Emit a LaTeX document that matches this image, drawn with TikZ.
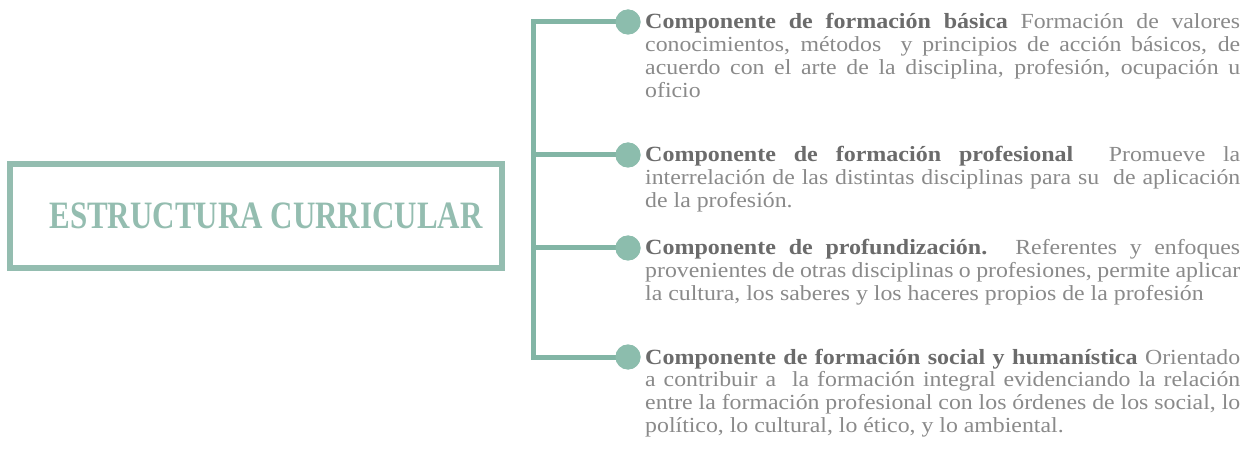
\documentclass[tikz,border=0pt]{standalone}
\usepackage{fontspec}
\setmainfont{Liberation Serif}
\definecolor{linec}{HTML}{82B5A5}
\definecolor{dotc}{HTML}{8CBDAD}
\definecolor{boxc}{HTML}{94BDB0}
\definecolor{headc}{HTML}{6B6B6B}
\definecolor{bodyc}{HTML}{8A8A8A}
\newcommand{\hd}[1]{{\fontsize{21.7}{20.5}\selectfont\bfseries\color{headc}#1}}
\newcommand{\loosepar}{\tolerance=10000 \hbadness=10000 \relax}
\tikzset{
  branch/.style={draw=linec, line width=5pt},
  dot/.style={circle, fill=dotc, minimum size=25pt, inner sep=0pt},
  desc/.style={anchor=base west, xscale=1.107, transform shape, text width=537.5pt,
    align=justify, inner sep=0pt, text=bodyc, font=\fontsize{21.5}{22.7}\selectfont,
    execute at begin node=\loosepar},
  mainbox/.style={draw=boxc, line width=6pt, minimum width=492pt, minimum height=104pt,
    inner sep=0pt, text=boxc, font=\fontsize{31}{31}\selectfont\bfseries}
}
\begin{document}
\begin{tikzpicture}[x=1pt,y=-1pt]
\useasboundingbox (0,0) rectangle (1254,457);
\fill[white] (0,0) rectangle (1254,457);
\node[mainbox] (main) at (256,216) {\hspace*{20pt}\raisebox{-1pt}{\scalebox{1}[1.25]{ESTRUCTURA CURRICULAR}}};
\coordinate (t1) at (533,22);
\coordinate (t2) at (533,155);
\coordinate (t3) at (533,248);
\coordinate (t4) at (533,357);
\node[dot] (d1) at (628,22) {};
\node[dot] (d2) at (628,155) {};
\node[dot] (d3) at (628,248) {};
\node[dot] (d4) at (628,357) {};
\draw[branch] (d1.center) -- (t1) -- (t4) -- (d4.center);
\draw[branch] (t2) -- (d2.center);
\draw[branch] (t3) -- (d3.center);
\node[dot] at (d1) {};
\node[dot] at (d2) {};
\node[dot] at (d3) {};
\node[dot] at (d4) {};
\node[desc] (c1) at (645,29) {\hd{Componente de formación básica} Formación de valores\linebreak
conocimientos, métodos \ y principios de acción básicos, de\linebreak
acuerdo con el arte de la disciplina, profesión, ocupación u\linebreak
oficio};
\node[desc] (c2) at (645,162) {\hd{Componente de formación profesional} \ Promueve la\linebreak
interrelación de las distintas disciplinas para su \ de aplicación\linebreak
de la profesión.};
\node[desc] (c3) at (645,255) {\hd{Componente de profundización.} Referentes y enfoques\linebreak
provenientes de otras disciplinas o profesiones, permite aplicar\linebreak
la cultura, los saberes y los haceres propios de la profesión};
\node[desc] (c4) at (645,364) {\hd{Componente de formación social y humanística} Orientado\linebreak
a contribuir a \ la formación integral evidenciando la relación\linebreak
entre la formación profesional con los órdenes de los social, lo\linebreak
político, lo cultural, lo ético, y lo ambiental.};
\end{tikzpicture}
\end{document}
